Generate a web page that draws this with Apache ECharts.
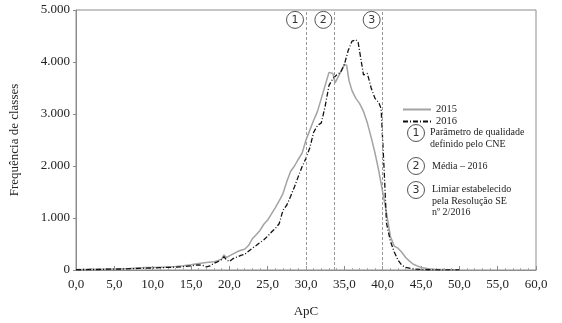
<!DOCTYPE html>
<html>
<head>
<meta charset="utf-8">
<script src="https://cdn.jsdelivr.net/npm/echarts@6/dist/echarts.min.js"></script>
<style>
  html, body { margin: 0; padding: 0; background: #fff; }
  #chart { width: 562px; height: 323px; }
</style>
</head>
<body>
<div id="chart"></div>
<script>
// dados
var apc2015 = [0, 1, 2, 3, 4, 5, 6, 7, 8, 9, 10, 11, 12, 13, 14, 15, 16, 17, 18, 18.5, 19, 19.3, 19.6, 20, 20.5, 21, 21.5, 22, 22.5, 23, 23.5, 24, 24.5, 25, 25.5, 26, 26.5, 27, 27.5, 28, 28.5, 29, 29.5, 30, 30.5, 31, 31.5, 32, 32.5, 33, 33.5, 33.8, 34, 34.5, 35, 35.3, 35.6, 36, 36.5, 37, 37.5, 38, 38.5, 39, 39.5, 40, 40.5, 41, 41.5, 42, 42.5, 43, 43.5, 44, 44.5, 45, 46, 47, 48, 49, 50];
var freq2015 = [10, 10, 15, 15, 20, 20, 25, 30, 40, 50, 50, 55, 60, 65, 80, 100, 125, 145, 160, 180, 210, 290, 240, 270, 310, 350, 380, 400, 470, 600, 680, 760, 880, 960, 1080, 1200, 1330, 1470, 1700, 1900, 2000, 2130, 2250, 2500, 2690, 2880, 3050, 3300, 3550, 3800, 3780, 3600, 3620, 3800, 3950, 3940, 3650, 3450, 3300, 3200, 3050, 2830, 2550, 2250, 1900, 1500, 1100, 650, 460, 420, 340, 240, 170, 110, 80, 50, 25, 12, 8, 5, 3];

var apc2016 = [0, 1, 2, 3, 4, 5, 6, 7, 8, 9, 10, 11, 12, 13, 14, 15, 16, 16.5, 17, 17.5, 18, 18.5, 19, 19.3, 19.6, 20, 20.5, 21, 21.5, 22, 22.5, 23, 23.5, 24, 24.5, 25, 25.5, 26, 26.5, 27, 27.5, 28, 28.5, 29, 29.5, 30, 30.5, 31, 31.5, 32, 32.5, 33, 33.5, 34, 34.5, 35, 35.5, 36, 36.5, 36.8, 37, 37.5, 38, 38.5, 39, 39.5, 39.8, 40, 40.2, 40.5, 41, 41.5, 42, 42.5, 43, 44, 45, 46, 48, 50];
var freq2016 = [5, 5, 10, 10, 15, 15, 20, 25, 30, 35, 40, 45, 50, 55, 65, 80, 100, 90, 60, 80, 130, 160, 200, 256, 200, 160, 220, 250, 280, 300, 360, 420, 470, 530, 580, 650, 730, 800, 890, 1150, 1250, 1420, 1600, 1800, 1990, 2150, 2350, 2650, 2780, 2830, 3150, 3550, 3680, 3750, 3800, 3950, 4220, 4400, 4430, 4380, 4200, 3750, 3780, 3500, 3300, 3220, 3100, 2500, 1900, 900, 560, 350, 190, 90, 50, 20, 10, 5, 3, 2];

// linhas de referência: 1 = parâmetro CNE, 2 = média 2016, 3 = limiar SE
var refLines = [30, 33.7, 40];
var refLabels = ['1', '2', '3'];

function pares(xs, ys) {
    return xs.map(function(x, i) { return [x, ys[i]]; });
}

var serif = 'Liberation Serif';
var myChart = echarts.init(document.getElementById('chart'));

// círculo numerado da legenda lateral
function marcador(n, cy) {
    return [
        { type: 'circle', shape: { cx: 416, cy: cy, r: 8.5 }, style: { fill: '#fff', stroke: '#555', lineWidth: 1 } },
        { type: 'text', x: 416, y: cy + 0.5, style: { text: n, fontFamily: 'DejaVu Sans', fontSize: 11, fill: '#333', align: 'center', verticalAlign: 'middle' } }
    ];
}

var option = {
    backgroundColor: '#fff',
    textStyle: { fontFamily: serif, color: '#222' },
    animation: false,
    grid: {
        left: 69.5, right: 26, top: 10, bottom: 53,
        show: true, borderColor: '#8c8c8c', borderWidth: 1
    },
    legend: {
        left: 397, top: 99,
        orient: 'vertical',
        itemWidth: 28, itemHeight: 8, itemGap: 1,
        itemStyle: { opacity: 0 },
        textStyle: { fontFamily: serif, fontSize: 10.5, color: '#222' },
        data: ['2015', '2016']
    },
    xAxis: {
        type: 'value',
        min: 0, max: 60, interval: 5,
        name: 'ApC', nameLocation: 'middle', nameGap: 35,
        nameTextStyle: { fontFamily: serif, fontSize: 13, color: '#222' },
        axisLine: { lineStyle: { color: '#8c8c8c' } },
        axisTick: { inside: true, length: 4, lineStyle: { color: '#8c8c8c' } },
        minorTick: { show: true, splitNumber: 5, length: 2, lineStyle: { color: '#aaa' } },
        splitLine: { show: false },
        axisLabel: {
            fontFamily: serif, fontSize: 13, color: '#222', margin: 8,
            formatter: function(v) { return v.toFixed(1).replace('.', ','); }
        }
    },
    yAxis: {
        type: 'value',
        min: 0, max: 5000, interval: 1000,
        name: 'Frequência de classes', nameLocation: 'middle', nameGap: 55,
        nameTextStyle: { fontFamily: serif, fontSize: 13, color: '#222' },
        axisLine: { show: true, lineStyle: { color: '#8c8c8c' } },
        axisTick: { show: true, length: 3, lineStyle: { color: '#8c8c8c' } },
        splitLine: { show: false },
        axisLabel: {
            fontFamily: serif, fontSize: 13, color: '#222', margin: 6,
            formatter: function(v) { return v === 0 ? '0' : (v / 1000) + '.000'; }
        }
    },
    series: [
        {
            name: '2015',
            type: 'line',
            data: pares(apc2015, freq2015),
            symbol: 'none',
            color: '#a3a3a3',
            lineStyle: { color: '#a3a3a3', width: 1.5 },
            markLine: {
                silent: true,
                symbol: 'none',
                label: { show: false },
                lineStyle: { color: '#999', type: [3, 2], width: 1 },
                data: refLines.map(function(x) { return { xAxis: x }; })
            },
            markPoint: {
                silent: true,
                symbol: 'circle',
                symbolSize: 17,
                symbolOffset: [-11, 0],
                itemStyle: { color: '#fff', borderColor: '#555', borderWidth: 1 },
                label: { show: true, position: 'inside', fontFamily: 'DejaVu Sans', fontSize: 11, color: '#333' },
                data: refLines.map(function(x, i) {
                    return { coord: [x, 4810], value: refLabels[i] };
                })
            }
        },
        {
            name: '2016',
            type: 'line',
            data: pares(apc2016, freq2016),
            symbol: 'none',
            color: '#111',
            lineStyle: { color: '#111', width: 1.3, type: [5, 2, 1, 2] }
        }
    ],
    graphic: [].concat(
        marcador('1', 133),
        [{ type: 'text', x: 430, y: 127, style: { text: 'Parâmetro de qualidade\ndefinido pelo CNE', fontFamily: serif, fontSize: 10, lineHeight: 11.5, fill: '#222' } }],
        marcador('2', 166),
        [{ type: 'text', x: 432, y: 161, style: { text: 'Média – 2016', fontFamily: serif, fontSize: 10, lineHeight: 11.5, fill: '#222' } }],
        marcador('3', 190),
        [{ type: 'text', x: 432, y: 184, style: { text: 'Limiar estabelecido\npela Resolução SE\nnº 2/2016', fontFamily: serif, fontSize: 10, lineHeight: 11.5, fill: '#222' } }]
    )
};

myChart.setOption(option);

window.addEventListener('resize', function() {
    myChart.resize();
});
</script>
</body>
</html>
